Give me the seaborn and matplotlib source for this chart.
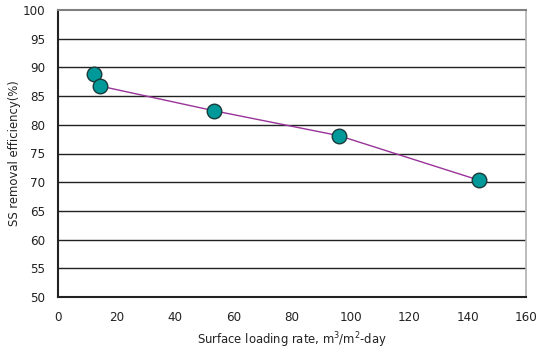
import matplotlib
matplotlib.use("Agg")
import matplotlib.pyplot as plt
import seaborn as sns
import pandas as pd

# Data
loading_rate = [12.3, 14.4, 53.3, 96.1, 143.9]
removal_eff = [88.85, 86.75, 82.45, 78.1, 70.35]
# trend line drawn through the last four points
line_x = [14.4, 53.3, 96.1, 143.9]
line_y = [86.75, 82.45, 78.1, 70.35]
x_ticks = [0, 20, 40, 60, 80, 100, 120, 140, 160]
y_ticks = [50, 55, 60, 65, 70, 75, 80, 85, 90, 95, 100]

sns.set_style("white")
plt.rcParams['font.family'] = ['DejaVu Sans']
plt.rcParams['font.stretch'] = 'condensed'
plt.rcParams['mathtext.fontset'] = 'dejavusans'

fig = plt.figure(figsize=(5.42, 3.52), dpi=100)
ax = fig.add_axes([58/542, 1-297/352, (526-58)/542, (297-10)/352])

df_pts = pd.DataFrame({"x": loading_rate, "y": removal_eff})
df_line = pd.DataFrame({"x": line_x, "y": line_y})

for v in y_ticks[1:-1]:
    ax.axhline(v, color="#222222", lw=1.0, zorder=1)

sns.lineplot(data=df_line, x="x", y="y", ax=ax, color="#993399", lw=1.0,
             sort=False, zorder=2)
sns.scatterplot(data=df_pts, x="x", y="y", ax=ax, color="#009999", s=110,
                edgecolor="#1a3a3a", linewidth=1.0, zorder=3)

ax.set_xlim(0, 160)
ax.set_ylim(50, 100)
ax.set_xticks(x_ticks)
ax.set_yticks(y_ticks)
ax.tick_params(axis="x", direction="in", length=4, width=1, color="#333333",
               labelsize=9.5, pad=10, colors="#222222")
ax.tick_params(axis="y", length=0, labelsize=9.5, pad=9, colors="#222222")

for s in ["left", "bottom"]:
    ax.spines[s].set_color("#222222")
    ax.spines[s].set_linewidth(1.5)
ax.spines["top"].set_color("#808080")
ax.spines["top"].set_linewidth(1.5)
ax.spines["right"].set_color("#b0b0b0")
ax.spines["right"].set_linewidth(1.2)

ax.set_xlabel(r"Surface loading rate, m$^3$/m$^2$-day", fontsize=9.3, color="#222222")
ax.xaxis.set_label_coords(0.5, -0.115)
ax.set_ylabel("SS removal efficiency(%)", fontsize=9.3, color="#222222")
ax.yaxis.set_label_coords(-0.08, 0.5)

fig.savefig("out.png", dpi=100)
